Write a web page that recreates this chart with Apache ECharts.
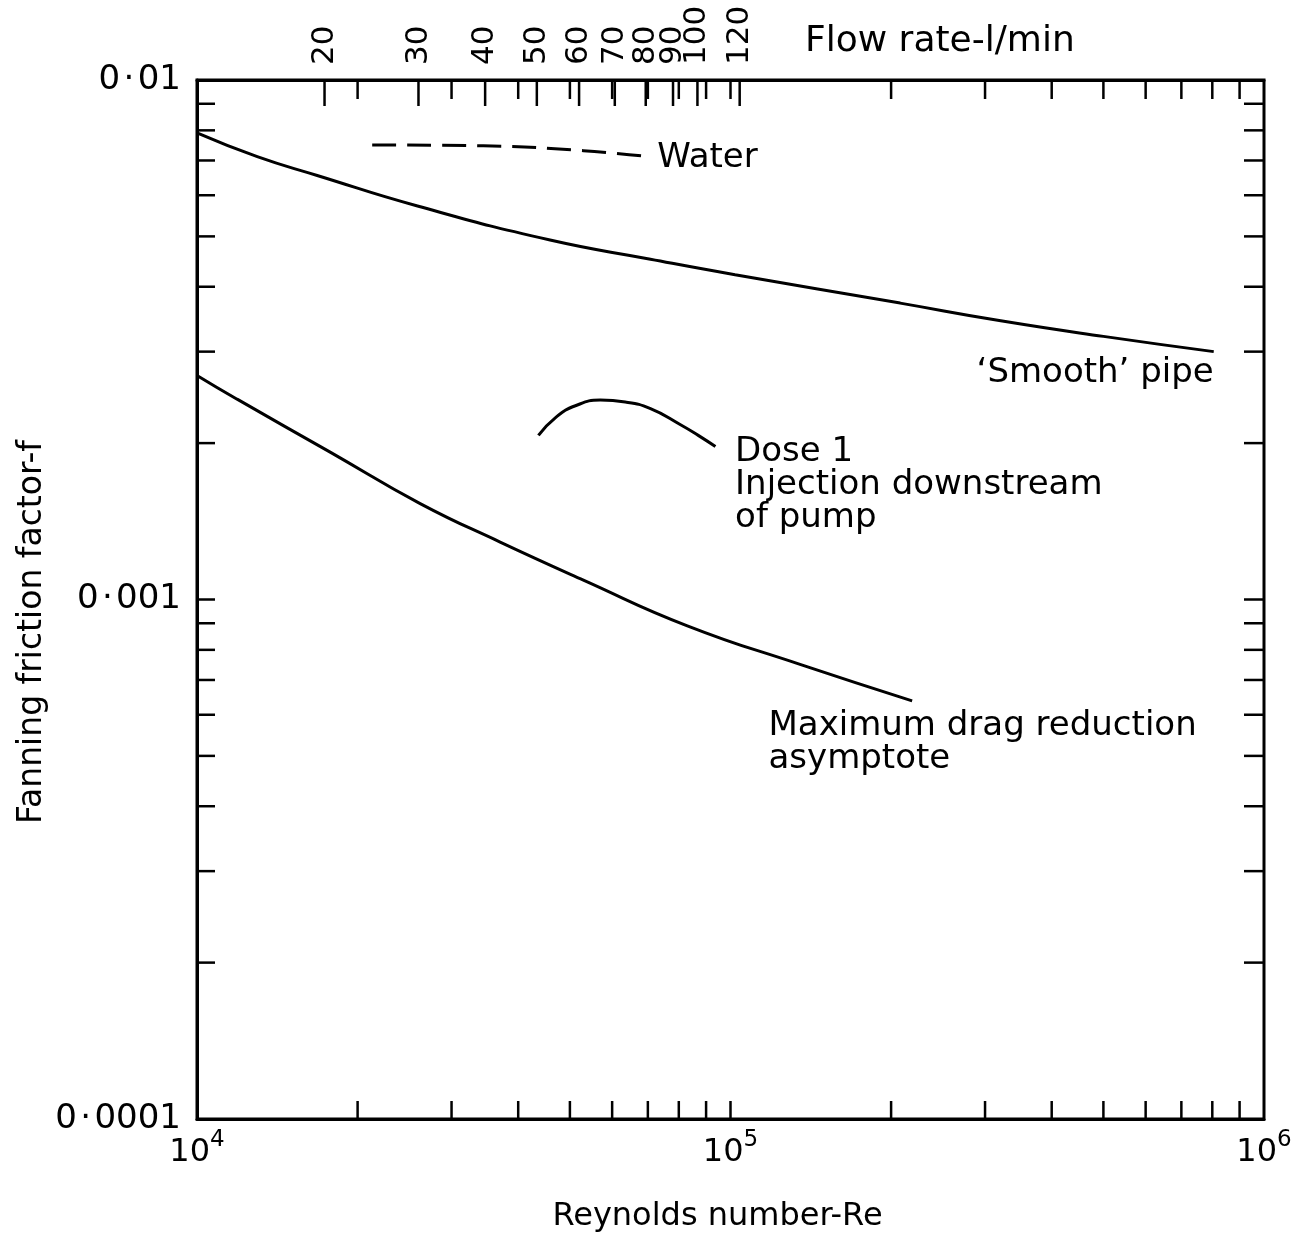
<!DOCTYPE html>
<html><head><meta charset="utf-8">
<script src="https://cdn.jsdelivr.net/npm/echarts@6/dist/echarts.min.js"></script>
<style>html,body{margin:0;padding:0;background:#fff}#c{width:1298px;height:1238px}</style>
</head><body><div id="c"></div>
<script>
// ---- data ----
const smoothRe = [10000, 12970, 16800, 25900, 45900, 70800, 102000, 208000, 321000, 500000, 805000];
const smoothF  = [0.00791, 0.00712, 0.00655, 0.00572, 0.00492, 0.00452, 0.00422, 0.00372, 0.00344, 0.00321, 0.00300];

const waterRe = [21300, 34400, 53000, 70100];
const waterF  = [0.00750, 0.00747, 0.00731, 0.00712];

const mdrRe = [10000, 11890, 17800, 26200, 37000, 53000, 83000, 135000, 219000];
const mdrF  = [0.00270, 0.00243, 0.00192, 0.00153, 0.00129, 0.00109, 0.00089, 0.000750, 0.000638];

const doseRe = [43650, 47000, 51200, 57000, 63500, 70800, 80600, 87000, 93700];
const doseF  = [0.00207, 0.00224, 0.00236, 0.00242, 0.00240, 0.00233, 0.00217, 0.00207, 0.00197];

// axis ticks
const reTicks = [2e4,3e4,4e4,5e4,6e4,7e4,8e4,9e4,1e5,2e5,3e5,4e5,5e5,6e5,7e5,8e5,9e5];
const fTicks = [0.009,0.008,0.007,0.006,0.005,0.004,0.003,0.002,0.001,0.0009,0.0008,0.0007,0.0006,0.0005,0.0004,0.0003,0.0002];
const flowTicks = [20,30,40,50,60,70,80,90,100,120];
const rePerFlow = 867; // Re per (l/min)

const annotations = [
  {re: 72900, f: 0.00706, text: 'Water', align: 'left', va: 'middle'},
  {re: 805000, f: 0.00273, text: '\u2018Smooth\u2019 pipe', align: 'right', va: 'middle'},
  {re: 102000, f: 0.00207, text: 'Dose 1\nInjection downstream\nof pump', align: 'left', va: 'top'},
  {re: 117800, f: 0.000615, text: 'Maximum drag reduction\nasymptote', align: 'left', va: 'top'}
];

const FONT = '"DejaVu Sans", sans-serif';
const K = '#000';

const pairs = (xs, ys) => xs.map((x, i) => [x, ys[i]]);

const chart = echarts.init(document.getElementById('c'), null, {renderer: 'canvas'});

function lineSeries(name, xs, ys, dashed) {
  return {
    name, type: 'line', data: pairs(xs, ys), smooth: 0.5, showSymbol: false, symbol: 'none',
    xAxisIndex: 0, yAxisIndex: 0,
    lineStyle: {color: K, width: 3, type: dashed ? [24, 11] : 'solid'},
    silent: true, z: 5
  };
}

const option = {
  animation: false,
  backgroundColor: '#fff',
  grid: {left: 197, right: 34, top: 80, bottom: 102, show: true, borderColor: K, borderWidth: 3},
  xAxis: [
    {
      type: 'log', logBase: 10, min: 1e4, max: 1e6, position: 'bottom',
      name: 'Reynolds number-Re', nameLocation: 'middle', nameGap: 82,
      nameTextStyle: {fontFamily: FONT, fontSize: 32, color: K, padding: [0, 26, 0, 0]},
      axisLine: {show: true, lineStyle: {color: K, width: 3}},
      axisTick: {show: false}, splitLine: {show: false},
      axisLabel: {
        margin: 10,
        formatter: v => '{b|10}{s|' + Math.round(Math.log10(v)) + '}',
        rich: {
          b: {fontFamily: FONT, fontSize: 32, color: K, verticalAlign: 'bottom', lineHeight: 40},
          s: {fontFamily: FONT, fontSize: 23, color: K, verticalAlign: 'top', lineHeight: 40, padding: [0, 0, 14, 0]}
        }
      }
    },
    {
      type: 'log', logBase: 10, min: 1e4 / rePerFlow, max: 1e6 / rePerFlow, position: 'top',
      axisLine: {show: true, lineStyle: {color: K, width: 3}},
      axisTick: {show: false}, axisLabel: {show: false}, splitLine: {show: false}
    }
  ],
  yAxis: [{
    type: 'log', logBase: 10, min: 1e-4, max: 1e-2,
    axisLine: {show: true, lineStyle: {color: K, width: 3}},
    axisTick: {show: false}, splitLine: {show: false},
    axisLabel: {
      margin: 16, fontFamily: FONT, fontSize: 34, color: K,
      formatter: v => { const e = Math.round(Math.log10(v)); return '0\u200a\u00b7\u200a' + '0'.repeat(-e - 1) + '1'; }
    }
  }],
  graphic: [
    {type: 'text', left: 805, top: 24,
     style: {text: 'Flow rate-l/min', fontFamily: FONT, fontSize: 36, fill: K}},
    {type: 'text', x: 32, y: 632, rotation: Math.PI / 2,
     style: {text: 'Fanning friction factor-f', fontFamily: FONT, fontSize: 33, fill: K, align: 'center', verticalAlign: 'middle'}}
  ],
  series: [
    lineSeries('Smooth pipe', smoothRe, smoothF, false),
    lineSeries('Water', waterRe, waterF, true),
    lineSeries('Maximum drag reduction asymptote', mdrRe, mdrF, false),
    lineSeries('Dose 1', doseRe, doseF, false),
    { // Re ticks bottom and top
      type: 'custom', xAxisIndex: 0, yAxisIndex: 0, silent: true, z: 6,
      data: reTicks.map(v => [v, 1e-3]),
      renderItem: (p, api) => {
        const v = api.value(0);
        const b = api.coord([v, 1e-4]);
        const t = api.coord([v, 1e-2]);
        return {type: 'group', children: [
          {type: 'line', shape: {x1: b[0], y1: b[1], x2: b[0], y2: b[1] - 18}, style: {stroke: K, lineWidth: 2.5}},
          {type: 'line', shape: {x1: t[0], y1: t[1], x2: t[0], y2: t[1] + 19}, style: {stroke: K, lineWidth: 2.5}}
        ]};
      }
    },
    { // f ticks left and right
      type: 'custom', xAxisIndex: 0, yAxisIndex: 0, silent: true, z: 6,
      data: fTicks.map(v => [1e5, v]),
      renderItem: (p, api) => {
        const v = api.value(1);
        const l = api.coord([1e4, v]);
        const r = api.coord([1e6, v]);
        return {type: 'group', children: [
          {type: 'line', shape: {x1: l[0], y1: l[1], x2: l[0] + 18, y2: l[1]}, style: {stroke: K, lineWidth: 2.5}},
          {type: 'line', shape: {x1: r[0], y1: r[1], x2: r[0] - 20, y2: r[1]}, style: {stroke: K, lineWidth: 2.5}}
        ]};
      }
    },
    { // flow-rate ticks and labels (top)
      type: 'custom', xAxisIndex: 1, yAxisIndex: 0, silent: true, z: 6,
      data: flowTicks.map(q => [q, 1e-3]),
      renderItem: (p, api) => {
        const q = api.value(0);
        const t = api.coord([q, 1e-2]);
        return {type: 'group', children: [
          {type: 'line', shape: {x1: t[0], y1: t[1], x2: t[0], y2: t[1] + 26}, style: {stroke: K, lineWidth: 2.5}},
          {type: 'text', x: t[0], y: t[1] - 15, rotation: Math.PI / 2,
           style: {text: String(q), fontFamily: FONT, fontSize: 31, fill: K, align: 'left', verticalAlign: 'middle'}}
        ]};
      }
    },
    { // curve annotations
      type: 'custom', xAxisIndex: 0, yAxisIndex: 0, silent: true, z: 7,
      data: annotations.map(a => [a.re, a.f]),
      renderItem: (p, api) => {
        const a = annotations[p.dataIndex];
        const c = api.coord([api.value(0), api.value(1)]);
        return {type: 'text', x: c[0], y: c[1],
          style: {text: a.text, fontFamily: FONT, fontSize: 34, lineHeight: 33, fill: K, align: a.align, verticalAlign: a.va}};
      }
    }
  ]
};
chart.setOption(option);
</script>
</body></html>
